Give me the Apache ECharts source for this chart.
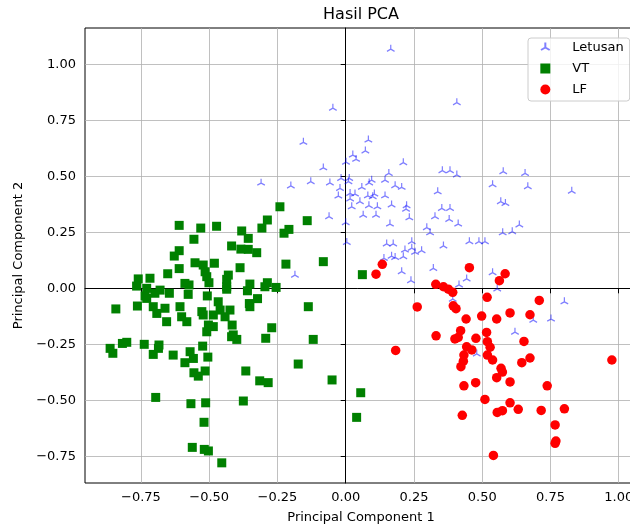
<!DOCTYPE html>
<html><head><meta charset="utf-8">
<script src="https://cdn.jsdelivr.net/npm/echarts@6/dist/echarts.min.js"></script>
<style>html,body{margin:0;padding:0;background:#fff}#c{width:630px;height:526px}</style>
</head><body><div id="c"></div>
<script>
const xTicks = [-0.75, -0.5, -0.25, 0, 0.25, 0.5, 0.75, 1.0];
const yTicks = [-0.75, -0.5, -0.25, 0, 0.25, 0.5, 0.75, 1.0];
const seriesNames = ['Letusan', 'VT', 'LF'];

const letusan = [[0.165,1.068],[-0.047,0.804],[0.407,0.829],[-0.155,0.652],[0.083,0.662],[0.072,0.613],[0.026,0.595],[0.038,0.576],[0.001,0.563],[-0.082,0.538],[0.211,0.561],[0.158,0.513],[0.354,0.525],[0.382,0.525],[0.407,0.506],[-0.310,0.470],[-0.201,0.457],[-0.128,0.476],[-0.058,0.471],[-0.017,0.491],[0.013,0.491],[0.010,0.476],[-0.021,0.446],[0.086,0.471],[0.095,0.483],[0.144,0.483],[0.181,0.458],[0.205,0.451],[0.337,0.431],[-0.027,0.412],[0.016,0.424],[0.034,0.421],[0.059,0.451],[0.081,0.413],[0.105,0.421],[0.099,0.409],[0.144,0.413],[0.052,0.387],[0.016,0.399],[0.022,0.364],[0.085,0.369],[0.116,0.364],[0.168,0.372],[0.223,0.369],[0.352,0.357],[0.382,0.357],[0.064,0.327],[0.111,0.327],[-0.061,0.320],[0.000,0.293],[0.004,0.205],[-0.186,0.059],[0.577,0.521],[0.657,0.513],[0.538,0.463],[0.667,0.454],[0.828,0.434],[0.221,0.353],[0.568,0.387],[0.585,0.379],[0.233,0.315],[0.327,0.320],[0.379,0.308],[0.412,0.287],[0.162,0.287],[0.297,0.271],[0.309,0.248],[0.636,0.283],[0.575,0.248],[0.610,0.253],[0.150,0.198],[0.174,0.198],[0.242,0.208],[0.217,0.171],[0.242,0.179],[0.254,0.161],[0.278,0.168],[0.358,0.189],[0.453,0.208],[0.488,0.208],[0.510,0.208],[0.140,0.134],[0.168,0.144],[0.181,0.138],[0.211,0.141],[0.321,0.089],[0.205,0.074],[0.239,0.034],[0.443,0.042],[0.415,0.015],[0.392,-0.048],[0.480,-0.293],[0.538,0.070],[0.555,-0.003],[0.801,-0.060],[0.687,-0.142],[0.752,-0.137],[0.620,-0.196]];

const vt = [[-0.610,0.281],[-0.531,0.269],[-0.473,0.277],[-0.381,0.256],[-0.307,0.269],[-0.556,0.219],[-0.357,0.223],[-0.418,0.189],[-0.384,0.175],[-0.357,0.174],[-0.326,0.159],[-0.610,0.168],[-0.628,0.144],[-0.552,0.114],[-0.522,0.104],[-0.481,0.112],[-0.387,0.092],[-0.610,0.088],[-0.652,0.065],[-0.515,0.074],[-0.430,0.059],[-0.436,0.040],[-0.509,0.052],[-0.501,0.025],[-0.760,0.042],[-0.717,0.045],[-0.589,0.022],[-0.574,0.015],[-0.766,0.010],[-0.729,0.000],[-0.436,0.007],[-0.351,0.019],[-0.296,0.007],[-0.287,0.025],[-0.735,-0.034],[-0.699,-0.022],[-0.680,-0.008],[-0.646,-0.022],[-0.577,-0.027],[-0.507,-0.034],[-0.436,-0.004],[-0.360,-0.011],[-0.323,-0.046],[-0.842,-0.092],[-0.763,-0.079],[-0.729,-0.045],[-0.705,-0.082],[-0.692,-0.112],[-0.662,-0.089],[-0.656,-0.149],[-0.607,-0.082],[-0.601,-0.127],[-0.582,-0.149],[-0.527,-0.104],[-0.522,-0.119],[-0.467,-0.060],[-0.460,-0.097],[-0.485,-0.119],[-0.442,-0.127],[-0.424,-0.097],[-0.416,-0.164],[-0.503,-0.164],[-0.353,-0.068],[-0.351,-0.082],[-0.509,-0.194],[-0.485,-0.171],[-0.418,-0.216],[-0.399,-0.228],[-0.293,-0.223],[-0.863,-0.268],[-0.853,-0.290],[-0.818,-0.246],[-0.802,-0.241],[-0.738,-0.250],[-0.684,-0.253],[-0.686,-0.268],[-0.705,-0.295],[-0.632,-0.298],[-0.570,-0.283],[-0.558,-0.313],[-0.589,-0.332],[-0.524,-0.258],[-0.505,-0.307],[-0.556,-0.377],[-0.540,-0.392],[-0.515,-0.369],[-0.366,-0.369],[-0.315,-0.413],[-0.696,-0.487],[-0.567,-0.515],[-0.513,-0.511],[-0.375,-0.503],[-0.519,-0.598],[-0.562,-0.710],[-0.518,-0.719],[-0.503,-0.726],[-0.454,-0.779],[-0.241,0.364],[-0.141,0.302],[-0.287,0.305],[-0.208,0.263],[-0.226,0.246],[-0.219,0.108],[-0.082,0.119],[0.061,0.061],[-0.255,0.004],[-0.137,-0.082],[-0.412,-0.208],[-0.271,-0.176],[-0.119,-0.228],[-0.174,-0.338],[-0.284,-0.421],[-0.050,-0.409],[0.055,-0.466],[0.040,-0.576]];

const lf = [[0.134,0.107],[0.111,0.063],[0.453,0.092],[0.330,0.018],[0.358,0.007],[0.376,-0.004],[0.392,-0.018],[0.518,-0.040],[0.262,-0.083],[0.394,-0.078],[0.404,-0.091],[0.441,-0.137],[0.498,-0.124],[0.331,-0.212],[0.421,-0.189],[0.400,-0.226],[0.412,-0.219],[0.477,-0.223],[0.516,-0.197],[0.443,-0.261],[0.462,-0.275],[0.519,-0.238],[0.519,-0.298],[0.433,-0.298],[0.431,-0.325],[0.422,-0.350],[0.183,-0.277],[0.433,-0.435],[0.476,-0.421],[0.510,-0.496],[0.427,-0.567],[0.541,-0.746],[0.584,0.065],[0.563,0.034],[0.709,-0.054],[0.602,-0.110],[0.675,-0.118],[0.553,-0.137],[0.653,-0.237],[0.529,-0.263],[0.538,-0.320],[0.675,-0.311],[0.645,-0.332],[0.975,-0.320],[0.569,-0.357],[0.574,-0.374],[0.553,-0.399],[0.602,-0.418],[0.738,-0.435],[0.602,-0.511],[0.632,-0.540],[0.555,-0.554],[0.574,-0.546],[0.716,-0.545],[0.801,-0.538],[0.767,-0.610],[0.770,-0.682],[0.767,-0.692]];

const FONT = 'DejaVu Sans';
const fmt = v => v.toFixed(2).replace('-', '\u2212');
const triPath = 'path://M0,0L0,-10M0,0L-8.66,5M0,0L8.66,5M0,10L0,10';

const chart = echarts.init(document.getElementById('c'), null, {renderer: 'canvas'});
chart.setOption({
  animation: false,
  backgroundColor: '#fff',
  title: {
    text: 'Hasil PCA', left: 361, top: 7, padding: 0, textAlign: 'center',
    textStyle: {fontFamily: FONT, fontSize: 16, fontWeight: 'normal', color: '#000'}
  },
  legend: {
    data: seriesNames, orient: 'vertical', left: 528, top: 38,
    padding: [3, 6, 5, 12], itemGap: 8, itemWidth: 10, itemHeight: 10,
    backgroundColor: 'rgba(255,255,255,0.8)', borderColor: '#cccccc', borderWidth: 1, borderRadius: 3,
    textStyle: {fontFamily: FONT, fontSize: 13, color: '#000', padding: [0, 0, 0, 17]}
  },
  grid: {
    left: 85, top: 28, width: 552, height: 455,
    show: true, borderColor: '#000', borderWidth: 1, backgroundColor: 'transparent',
    containLabel: false, outerBoundsMode: 'none'
  },
  xAxis: {
    type: 'value', min: -0.955, max: 1.067,
    name: 'Principal Component 1', nameLocation: 'middle', nameGap: 28,
    nameTextStyle: {fontFamily: FONT, fontSize: 13, color: '#000'},
    axisLine: {show: true, lineStyle: {color: '#000', width: 1}},
    axisTick: {show: true, customValues: xTicks, length: 5, lineStyle: {color: '#000', width: 1}},
    axisLabel: {customValues: xTicks, formatter: fmt, margin: 8, fontFamily: FONT, fontSize: 13, color: '#000'},
    splitLine: {show: true, lineStyle: {color: '#b0b0b0', width: 0.8}}
  },
  yAxis: {
    type: 'value', min: -0.869, max: 1.162,
    name: 'Principal Component 2', nameLocation: 'middle', nameGap: 57, nameRotate: 90,
    nameTextStyle: {fontFamily: FONT, fontSize: 13, color: '#000'},
    axisLine: {show: true, lineStyle: {color: '#000', width: 1}},
    axisTick: {show: true, customValues: yTicks, length: 5, lineStyle: {color: '#000', width: 1}},
    axisLabel: {customValues: yTicks, formatter: fmt, margin: 9, fontFamily: FONT, fontSize: 13, color: '#000'},
    splitLine: {show: true, lineStyle: {color: '#b0b0b0', width: 0.8}}
  },
  series: [
    {
      name: seriesNames[0], type: 'scatter', data: letusan,
      symbol: triPath, symbolSize: [7.6, 8.8],
      itemStyle: {color: 'transparent', borderColor: 'rgba(0,0,255,0.5)', borderWidth: 1.3, opacity: 1}
    },
    {
      name: seriesNames[1], type: 'scatter', data: vt,
      symbol: 'rect', symbolSize: 9,
      itemStyle: {color: '#008000', opacity: 1}
    },
    {
      name: seriesNames[2], type: 'scatter', data: lf,
      symbol: 'circle', symbolSize: 9.5,
      itemStyle: {color: '#ff0000', opacity: 1}
    }
  ]
});
</script></body></html>
